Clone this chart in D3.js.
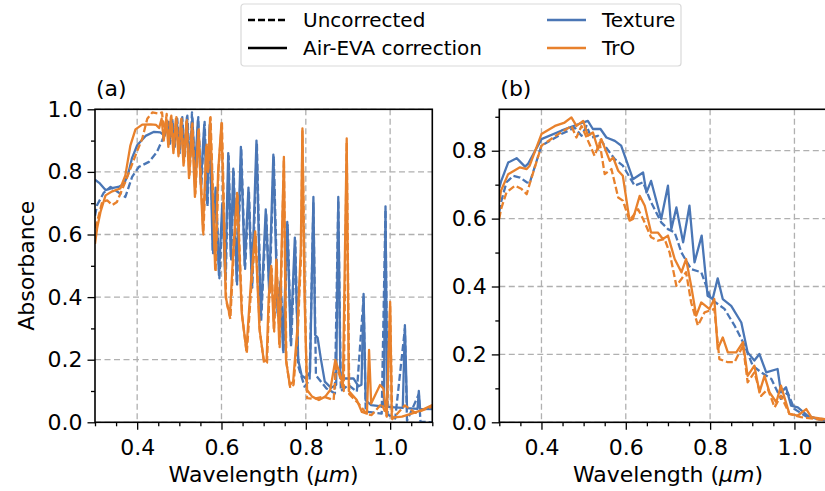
<!DOCTYPE html>
<html>
<head>
<meta charset="utf-8">
<script src="https://cdn.jsdelivr.net/npm/d3@7"></script>
<style>
  body { margin: 0; background: #fff; }
  text { font-family: "DejaVu Sans", sans-serif; fill: #000; }
</style>
</head>
<body>
<div class="chart"></div>
<script>
// Panel (a): full spectra, [wavelength, absorbance]
var texCorrA = [[0.300,0.775],[0.310,0.765],[0.325,0.742],[0.340,0.748],[0.355,0.752],[0.368,0.760],[0.378,0.790],[0.388,0.845],[0.400,0.885],[0.420,0.915],[0.440,0.928],[0.455,0.926],[0.465,0.915],
  [0.472,0.95],[0.477,0.90],[0.483,0.96],[0.488,0.88],[0.494,0.965],[0.500,0.87],[0.506,0.97],[0.512,0.86],[0.518,0.975],[0.524,0.83],[0.531,0.97],[0.537,0.80],[0.544,0.965],[0.551,0.76],[0.559,0.95],[0.566,0.70],[0.572,0.95],
  [0.579,0.55],[0.586,0.75],[0.594,0.47],[0.602,0.70],[0.609,0.46],[0.616,0.86],[0.622,0.53],[0.628,0.81],[0.636,0.45],[0.646,0.88],[0.655,0.50],[0.664,0.75],[0.672,0.44],[0.683,0.90],[0.693,0.33],[0.705,0.68],[0.713,0.42],[0.723,0.855],[0.733,0.35],[0.740,0.45],[0.746,0.23],[0.756,0.64],[0.764,0.26],[0.774,0.59],[0.782,0.20],[0.790,0.15],[0.800,0.14],[0.810,0.16],
  [0.818,0.72],[0.822,0.28],[0.828,0.27],[0.836,0.20],[0.845,0.13],[0.860,0.11],[0.872,0.12],[0.877,0.72],[0.882,0.14],[0.895,0.14],[0.913,0.14],[0.925,0.115],[0.932,0.12],[0.937,0.41],[0.942,0.07],[0.955,0.055],[0.975,0.052],[0.985,0.05],[0.989,0.69],[0.993,0.05],[1.010,0.048],[1.030,0.046],[1.035,0.31],[1.040,0.045],[1.065,0.043],[1.068,0.10],[1.071,0.043],[1.100,0.042]];

var texRawA = [[0.300,0.660],[0.305,0.694],[0.321,0.734],[0.337,0.752],[0.356,0.734],[0.372,0.720],[0.388,0.784],[0.404,0.816],[0.428,0.832],[0.447,0.864],[0.459,0.900],[0.468,0.930],
  [0.474,0.96],[0.478,0.89],[0.484,0.965],[0.489,0.88],[0.495,0.97],[0.501,0.86],[0.507,0.975],[0.513,0.85],[0.519,0.98],[0.525,0.82],[0.530,0.99],[0.538,0.79],[0.545,0.975],[0.552,0.75],[0.560,0.96],[0.567,0.69],[0.573,0.955],
  [0.580,0.54],[0.587,0.74],[0.595,0.46],[0.603,0.69],[0.610,0.45],[0.617,0.85],[0.623,0.52],[0.629,0.80],[0.637,0.44],[0.647,0.87],[0.656,0.49],[0.665,0.74],[0.673,0.43],[0.684,0.89],[0.694,0.32],[0.706,0.67],[0.714,0.41],[0.724,0.85],[0.734,0.34],[0.741,0.44],[0.747,0.22],[0.757,0.63],[0.765,0.24],[0.775,0.58],[0.782,0.18],[0.797,0.114],[0.809,0.135],
  [0.818,0.70],[0.824,0.15],[0.849,0.108],[0.869,0.092],[0.877,0.71],[0.883,0.10],[0.901,0.119],[0.921,0.098],[0.937,0.40],[0.942,0.04],[0.948,0.033],[0.980,0.028],[0.989,0.68],[0.994,0.025],[1.012,0.012],[1.035,0.30],[1.040,0.005],[1.068,0.09],[1.072,0.002],[1.100,0.000]];

var troCorrA = [[0.300,0.570],[0.305,0.620],[0.313,0.672],[0.325,0.725],[0.341,0.738],[0.360,0.747],[0.372,0.789],[0.384,0.885],[0.396,0.936],[0.412,0.951],[0.432,0.952],[0.445,0.950],[0.452,0.940],
  [0.458,0.97],[0.463,0.90],[0.469,0.97],[0.474,0.88],[0.480,0.975],[0.486,0.86],[0.492,0.97],[0.498,0.85],[0.504,0.965],[0.510,0.82],[0.517,0.96],[0.523,0.78],[0.530,0.95],[0.537,0.72],[0.545,0.93],[0.556,0.61],[0.564,0.88],[0.568,0.80],[0.573,0.972],
  [0.585,0.49],[0.592,0.80],[0.600,0.956],[0.610,0.40],[0.620,0.34],[0.628,0.55],[0.637,0.733],[0.648,0.35],[0.659,0.23],[0.670,0.45],[0.680,0.61],[0.690,0.30],[0.700,0.20],[0.707,0.195],[0.712,0.40],[0.718,0.50],[0.724,0.30],[0.730,0.52],[0.737,0.25],[0.748,0.848],[0.753,0.20],[0.762,0.119],[0.770,0.13],[0.780,0.30],[0.788,0.55],[0.792,0.939],[0.797,0.40],
  [0.803,0.103],[0.815,0.082],[0.831,0.071],[0.846,0.082],[0.858,0.103],[0.870,0.199],[0.878,0.167],[0.888,0.120],[0.897,0.907],[0.902,0.100],[0.921,0.071],[0.933,0.033],[0.945,0.028],[0.950,0.231],[0.955,0.060],[0.976,0.119],[0.984,0.108],[0.992,0.018],[1.000,0.385],[1.004,0.015],[1.028,0.018],[1.051,0.028],[1.075,0.039],[1.100,0.055]];

var troRawA = [[0.300,0.620],[0.305,0.640],[0.317,0.704],[0.329,0.709],[0.341,0.694],[0.352,0.704],[0.372,0.768],[0.396,0.853],[0.412,0.906],[0.424,0.970],[0.436,0.990],[0.451,0.986],
  [0.459,0.99],[0.464,0.92],[0.470,0.985],[0.475,0.89],[0.481,0.98],[0.487,0.87],[0.493,0.975],[0.499,0.86],[0.505,0.97],[0.511,0.83],[0.518,0.965],[0.524,0.79],[0.531,0.955],[0.538,0.73],[0.546,0.94],[0.557,0.60],[0.565,0.89],[0.569,0.81],[0.574,0.975],
  [0.586,0.48],[0.593,0.81],[0.601,0.96],[0.611,0.39],[0.621,0.33],[0.629,0.54],[0.638,0.725],[0.649,0.34],[0.660,0.22],[0.671,0.44],[0.681,0.60],[0.691,0.29],[0.701,0.19],[0.708,0.19],[0.713,0.39],[0.719,0.49],[0.725,0.29],[0.731,0.51],[0.738,0.24],[0.748,0.84],[0.754,0.19],[0.763,0.11],[0.771,0.12],[0.781,0.29],[0.789,0.54],[0.792,0.93],[0.798,0.38],
  [0.803,0.077],[0.820,0.075],[0.842,0.082],[0.866,0.071],[0.872,0.180],[0.880,0.150],[0.890,0.100],[0.897,0.895],[0.903,0.090],[0.925,0.060],[0.945,0.025],[0.956,0.023],[0.980,0.060],[0.992,0.020],[1.000,0.370],[1.005,0.010],[1.035,0.054],[1.060,0.030],[1.100,0.050]];

// Panel (b): binned spectra
var texCorrB = [[0.300,0.690],[0.304,0.709],[0.321,0.765],[0.341,0.778],[0.361,0.753],[0.368,0.761],[0.400,0.834],[0.447,0.859],[0.487,0.878],[0.510,0.888],[0.522,0.864],[0.540,0.864],[0.554,0.839],[0.574,0.829],[0.589,0.815],[0.617,0.716],[0.641,0.736],[0.649,0.677],[0.660,0.711],[0.684,0.599],[0.700,0.697],[0.708,0.569],[0.720,0.633],[0.736,0.530],[0.751,0.638],[0.763,0.471],[0.780,0.550],[0.794,0.373],[0.806,0.363],[0.818,0.424],[0.830,0.363],[0.850,0.343],[0.874,0.294],[0.889,0.206],[0.905,0.182],[0.917,0.201],[0.933,0.147],[0.960,0.157],[0.968,0.088],[0.980,0.103],[0.992,0.049],[1.008,0.044],[1.031,0.020],[1.059,0.008],[1.100,0.004]];

var texRawB = [[0.300,0.620],[0.304,0.648],[0.317,0.707],[0.333,0.726],[0.349,0.721],[0.365,0.707],[0.372,0.705],[0.400,0.815],[0.447,0.849],[0.479,0.868],[0.495,0.844],[0.507,0.873],[0.518,0.839],[0.534,0.844],[0.550,0.815],[0.574,0.775],[0.593,0.756],[0.621,0.697],[0.641,0.707],[0.660,0.648],[0.684,0.589],[0.700,0.569],[0.716,0.559],[0.732,0.500],[0.755,0.451],[0.779,0.442],[0.802,0.363],[0.834,0.334],[0.858,0.285],[0.882,0.226],[0.901,0.167],[0.921,0.147],[0.945,0.128],[0.968,0.069],[0.984,0.088],[1.000,0.039],[1.031,0.015],[1.100,0.004]];

var troCorrB = [[0.300,0.650],[0.304,0.682],[0.321,0.731],[0.349,0.751],[0.365,0.746],[0.372,0.756],[0.400,0.849],[0.432,0.873],[0.455,0.883],[0.471,0.898],[0.483,0.873],[0.499,0.888],[0.510,0.844],[0.522,0.854],[0.534,0.805],[0.542,0.834],[0.562,0.770],[0.570,0.780],[0.582,0.741],[0.593,0.726],[0.609,0.594],[0.617,0.599],[0.633,0.667],[0.645,0.638],[0.660,0.559],[0.676,0.559],[0.688,0.540],[0.700,0.550],[0.716,0.481],[0.732,0.442],[0.743,0.481],[0.755,0.402],[0.767,0.314],[0.779,0.353],[0.798,0.334],[0.810,0.363],[0.818,0.216],[0.830,0.250],[0.842,0.206],[0.862,0.206],[0.878,0.236],[0.889,0.137],[0.905,0.167],[0.917,0.088],[0.929,0.137],[0.941,0.088],[0.957,0.059],[0.968,0.108],[0.988,0.025],[1.008,0.020],[1.028,0.039],[1.040,0.015],[1.100,0.004]];

var troRawB = [[0.300,0.600],[0.304,0.628],[0.317,0.677],[0.337,0.697],[0.353,0.687],[0.365,0.672],[0.372,0.702],[0.400,0.815],[0.440,0.849],[0.471,0.873],[0.483,0.839],[0.495,0.873],[0.507,0.839],[0.526,0.785],[0.538,0.824],[0.550,0.731],[0.566,0.746],[0.582,0.662],[0.593,0.653],[0.609,0.594],[0.629,0.628],[0.641,0.599],[0.660,0.545],[0.676,0.535],[0.692,0.540],[0.704,0.500],[0.720,0.402],[0.732,0.422],[0.743,0.442],[0.755,0.353],[0.771,0.285],[0.787,0.324],[0.810,0.334],[0.822,0.186],[0.842,0.177],[0.858,0.177],[0.878,0.226],[0.889,0.118],[0.905,0.147],[0.921,0.078],[0.937,0.098],[0.953,0.044],[0.968,0.078],[0.988,0.025],[1.016,0.015],[1.100,0.002]];

var xMajor = [0.4, 0.6, 0.8, 1.0];
var xMinor = [0.3, 0.35, 0.45, 0.5, 0.55, 0.65, 0.7, 0.75, 0.85, 0.9, 0.95, 1.05, 1.1];
var yMajorA = [0, 0.2, 0.4, 0.6, 0.8, 1.0];
var yMajorB = [0, 0.2, 0.4, 0.6, 0.8];
var yMinor = [0.1, 0.3, 0.5, 0.7, 0.9];

var blue = "#4a76b5";
var orange = "#e8812c";
var fontSize = 22;
var legendFont = 20;

var svgWidth = 825;
var svgHeight = 491;

var svg = d3.select(".chart")
  .append("svg")
  .attr("width", svgWidth)
  .attr("height", svgHeight);

// draws one panel: grid, lines, spines, ticks
function drawPanel(left, top, w, h, yMax, yMajor, series, label, id) {
  var x = d3.scaleLinear().domain([0.3, 1.1]).range([0, w]);
  var y = d3.scaleLinear().domain([0, yMax]).range([h, 0]);

  var g = svg.append("g").attr("transform", "translate(" + left + "," + top + ")");

  g.append("clipPath").attr("id", id)
    .append("rect").attr("width", w).attr("height", h);

  // grid
  g.selectAll(".gx").data(xMajor).enter().append("line")
    .attr("x1", function(d) { return x(d); })
    .attr("x2", function(d) { return x(d); })
    .attr("y1", 0).attr("y2", h)
    .attr("stroke", "#b0b0b0").attr("stroke-width", 1.3)
    .attr("stroke-dasharray", "6,3.5");
  g.selectAll(".gy").data(yMajor).enter().append("line")
    .attr("x1", 0).attr("x2", w)
    .attr("y1", function(d) { return y(d); })
    .attr("y2", function(d) { return y(d); })
    .attr("stroke", "#b0b0b0").attr("stroke-width", 1.3)
    .attr("stroke-dasharray", "6,3.5");

  var line = d3.line()
    .x(function(d) { return x(d[0]); })
    .y(function(d) { return y(d[1]); });

  var lines = g.append("g").attr("clip-path", "url(#" + id + ")");
  series.forEach(function(s) {
    lines.append("path")
      .datum(s.data)
      .attr("d", line)
      .attr("fill", "none")
      .attr("stroke", s.color)
      .attr("stroke-width", 2.3)
      .attr("stroke-linejoin", "round")
      .attr("stroke-dasharray", s.dashed ? "7,3" : null);
  });

  // spines
  g.append("rect").attr("width", w).attr("height", h)
    .attr("fill", "none").attr("stroke", "#000").attr("stroke-width", 1.6);

  // axes
  var bottomAxis = d3.axisBottom(x).tickValues(xMajor).tickSize(7.5).tickPadding(10)
    .tickFormat(d3.format(".1f"));
  var bottomMinor = d3.axisBottom(x).tickValues(xMinor).tickSize(4).tickFormat("");
  var leftAxis = d3.axisLeft(y).tickValues(yMajor).tickSize(7.5).tickPadding(5)
    .tickFormat(d3.format(".1f"));
  var leftMinor = d3.axisLeft(y).tickValues(yMinor.filter(function(d) { return d < yMax; }))
    .tickSize(4).tickFormat("");

  [g.append("g").attr("transform", "translate(0," + h + ")").call(bottomAxis),
   g.append("g").attr("transform", "translate(0," + h + ")").call(bottomMinor),
   g.append("g").call(leftAxis),
   g.append("g").call(leftMinor)].forEach(function(a) {
    a.select(".domain").remove();
    a.selectAll("line").attr("stroke", "#000").attr("stroke-width", 1.3);
    a.selectAll("text").attr("font-size", fontSize).attr("font-family", "DejaVu Sans").attr("fill", "#000");
  });

  g.append("text")
    .attr("x", 1).attr("y", -13)
    .attr("font-size", fontSize)
    .text(label);

  g.append("text")
    .attr("x", x(0.7)).attr("y", h + 60)
    .attr("text-anchor", "middle")
    .attr("font-size", fontSize)
    .html("Wavelength (<tspan font-style='italic'>μm</tspan>)");

  return g;
}

var hA = 313;
drawPanel(95, 109.3, 337.3, hA, 1.0, yMajorA, [
  {data: texRawA, color: blue, dashed: true},
  {data: texCorrA, color: blue, dashed: false},
  {data: troRawA, color: orange, dashed: true},
  {data: troCorrA, color: orange, dashed: false}
], "(a)", "clipA");

drawPanel(499.3, 109.3, 337.3, hA, 0.922, yMajorB, [
  {data: texRawB, color: blue, dashed: true},
  {data: texCorrB, color: blue, dashed: false},
  {data: troRawB, color: orange, dashed: true},
  {data: troCorrB, color: orange, dashed: false}
], "(b)", "clipB");

// y label
svg.append("text")
  .attr("transform", "translate(34," + (109.3 + hA / 2) + ") rotate(-90)")
  .attr("text-anchor", "middle")
  .attr("font-size", fontSize)
  .text("Absorbance");

// legend
var legend = svg.append("g").attr("transform", "translate(241,4)");
legend.append("rect")
  .attr("width", 440).attr("height", 62).attr("rx", 3)
  .attr("fill", "#fff").attr("stroke", "#d9d9d9").attr("stroke-width", 1.2);

var legendItems = [
  {label: "Uncorrected", color: "#000", dashed: true, col: 0, row: 0},
  {label: "Air-EVA correction", color: "#000", dashed: false, col: 0, row: 1},
  {label: "Texture", color: blue, dashed: false, col: 1, row: 0},
  {label: "TrO", color: orange, dashed: false, col: 1, row: 1}
];
var colX = [7, 306];
legendItems.forEach(function(d) {
  var lx = colX[d.col];
  var ly = 16 + d.row * 28;
  legend.append("line")
    .attr("x1", lx).attr("x2", lx + 39)
    .attr("y1", ly).attr("y2", ly)
    .attr("stroke", d.color).attr("stroke-width", 2.3)
    .attr("stroke-dasharray", d.dashed ? "7,3" : null);
  legend.append("text")
    .attr("x", lx + 55).attr("y", ly + 7)
    .attr("font-size", legendFont)
    .text(d.label);
});
</script>
</body>
</html>
